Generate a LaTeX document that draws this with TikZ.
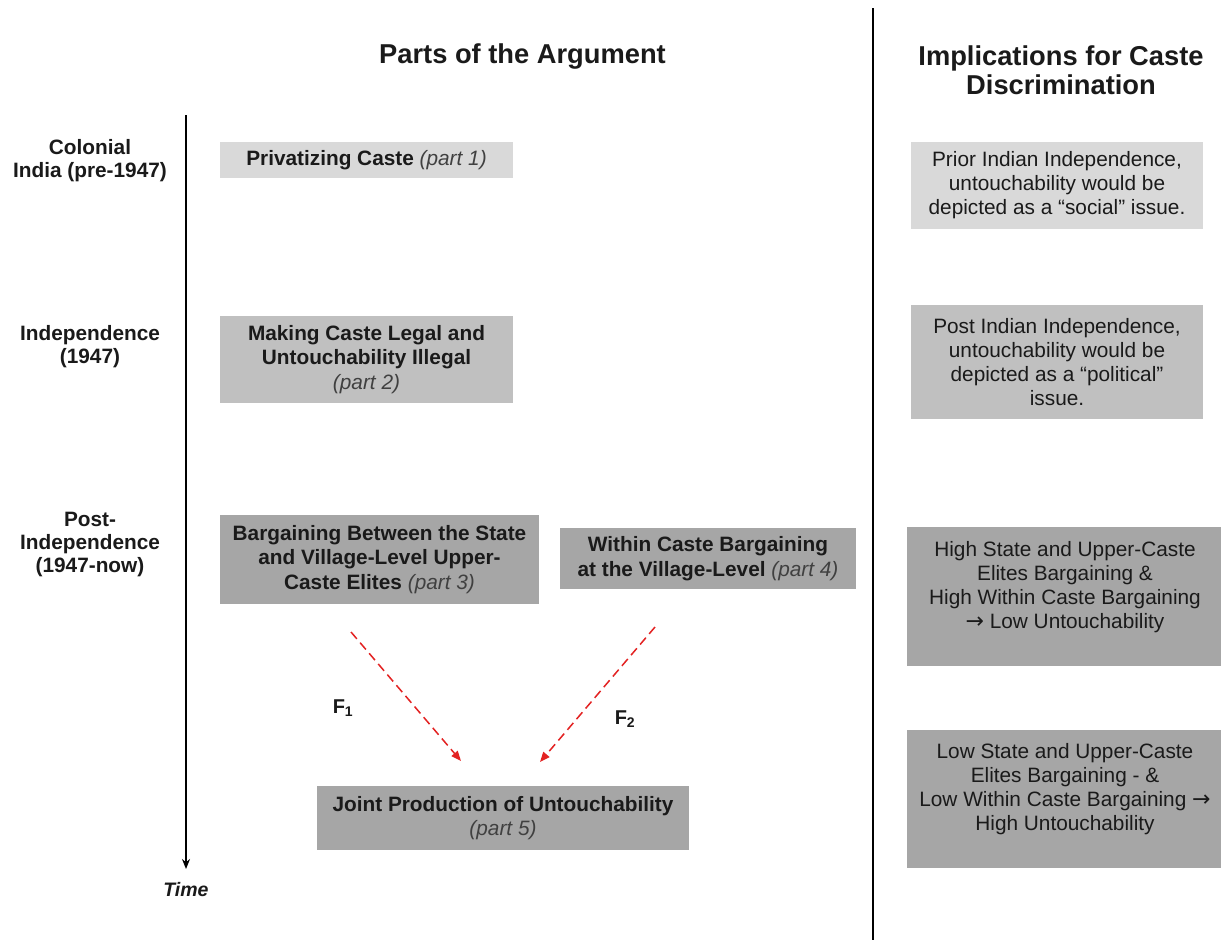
\documentclass[tikz,border=0pt]{standalone}
\usepackage{fontspec}
\setmainfont{Liberation Sans}
\newfontfamily\arrowfont{DejaVu Sans}
\usetikzlibrary{arrows.meta}
\definecolor{lightg}{HTML}{D9D9D9}
\definecolor{midg}{HTML}{C0C0C0}
\definecolor{darkg}{HTML}{A6A6A6}
\definecolor{arrred}{HTML}{E32222}
\definecolor{txt}{HTML}{1A1A1A}
\definecolor{ital}{HTML}{404040}
\newcommand{\rarr}{{\arrowfont\fontsize{22}{24}\selectfont →}}
\begin{document}
\begin{tikzpicture}[x=1pt,y=-1pt,
  partbox/.style={rectangle, inner sep=0pt, align=center, text=txt,
    font=\fontsize{20.8}{24.5}\selectfont\bfseries},
  implbox/.style={rectangle, inner sep=0pt, align=center, text=txt,
    font=\fontsize{20.8}{24}\selectfont},
  period/.style={align=center, text=txt, inner sep=0pt,
    font=\fontsize{20.8}{23}\selectfont\bfseries},
  titletext/.style={align=center, text=txt, inner sep=0pt,
    font=\fontsize{27.3}{29.5}\selectfont\bfseries},
  flabel/.style={text=txt, inner sep=0pt, font=\fontsize{20}{22}\selectfont\bfseries},
  redarrow/.style={draw=arrred, line width=1.5pt, dash pattern=on 9pt off 5pt,
    -{Triangle[length=10pt,width=8pt]}}]
\useasboundingbox (0,0) rectangle (1221,940);
\fill[white] (0,0) rectangle (1221,940);

% titles
\node[titletext] (t1) at (522.5,56) {Parts of the Argument};
\node[titletext] (t2) at (1061,70) {Implications for Caste\\Discrimination};

% divider
\coordinate (d0) at (873,8);
\coordinate (d1) at (873,940);
\draw[line width=1.6pt] (d0) -- (d1);

% timeline
\coordinate (tl0) at (186,115);
\coordinate (tl1) at (186,869);
\draw[line width=1.6pt, -{Stealth[length=10pt,width=8pt]}] (tl0) -- (tl1);
\node[flabel, font=\fontsize{19.5}{22}\selectfont\bfseries\itshape] (time) at (186,890) {Time};

% period labels
\node[period] (per1) at (90,161) {Colonial\\India (pre-1947)};
\node[period] (per2) at (90,347) {Independence\\(1947)};
\node[period] (per3) at (90,544) {Post-\\Independence\\(1947-now)};

% parts
\node[partbox, fill=lightg, minimum width=293pt, minimum height=36pt] (p1) at (366.5,160)
  {Privatizing Caste {\mdseries\itshape\color{ital}(part 1)}};
\node[partbox, fill=midg, minimum width=293pt, minimum height=87pt] (p2) at (366.5,359.5)
  {Making Caste Legal and\\Untouchability Illegal\\{\mdseries\itshape\color{ital}(part 2)}};
\node[partbox, fill=darkg, minimum width=319pt, minimum height=89pt] (p3) at (379.5,559.5)
  {Bargaining Between the State\\and Village-Level Upper-\\Caste Elites {\mdseries\itshape\color{ital}(part 3)}};
\node[partbox, fill=darkg, minimum width=296pt, minimum height=61pt] (p4) at (708,558.5)
  {Within Caste Bargaining\\at the Village-Level {\mdseries\itshape\color{ital}(part 4)}};
\node[partbox, fill=darkg, minimum width=372pt, minimum height=64pt] (p5) at (503,818)
  {Joint Production of Untouchability\\{\mdseries\itshape\color{ital}(part 5)}};

% arrows
\coordinate (a1s) at (351,632);
\coordinate (a1e) at (461,761);
\coordinate (a2s) at (655,627);
\coordinate (a2e) at (540,762);
\draw[redarrow] (a1s) -- (a1e);
\draw[redarrow] (a2s) -- (a2e);
\node[flabel] (f1) at (343,708) {F\textsubscript{1}};
\node[flabel] (f2) at (625,719) {F\textsubscript{2}};

% implications
\node[implbox, fill=lightg, minimum width=292pt, minimum height=87pt] (r1) at (1057,185.5)
  {Prior Indian Independence,\\untouchability would be\\depicted as a “social” issue.};
\node[implbox, fill=midg, minimum width=292pt, minimum height=114pt] (r2) at (1057,362)
  {Post Indian Independence,\\untouchability would be\\depicted as a “political”\\issue.};
\node[implbox, fill=darkg, minimum width=316pt, minimum height=139pt] (r3) at (1065,596.5)
  {High State and Upper-Caste\\Elites Bargaining \&\\High Within Caste Bargaining\\\rarr{} Low Untouchability\\\mbox{}};
\node[implbox, fill=darkg, minimum width=316pt, minimum height=138pt] (r4) at (1065,799)
  {Low State and Upper-Caste\\Elites Bargaining - \&\\Low Within Caste Bargaining \rarr\\High Untouchability\\\mbox{}};
\end{tikzpicture}
\end{document}
